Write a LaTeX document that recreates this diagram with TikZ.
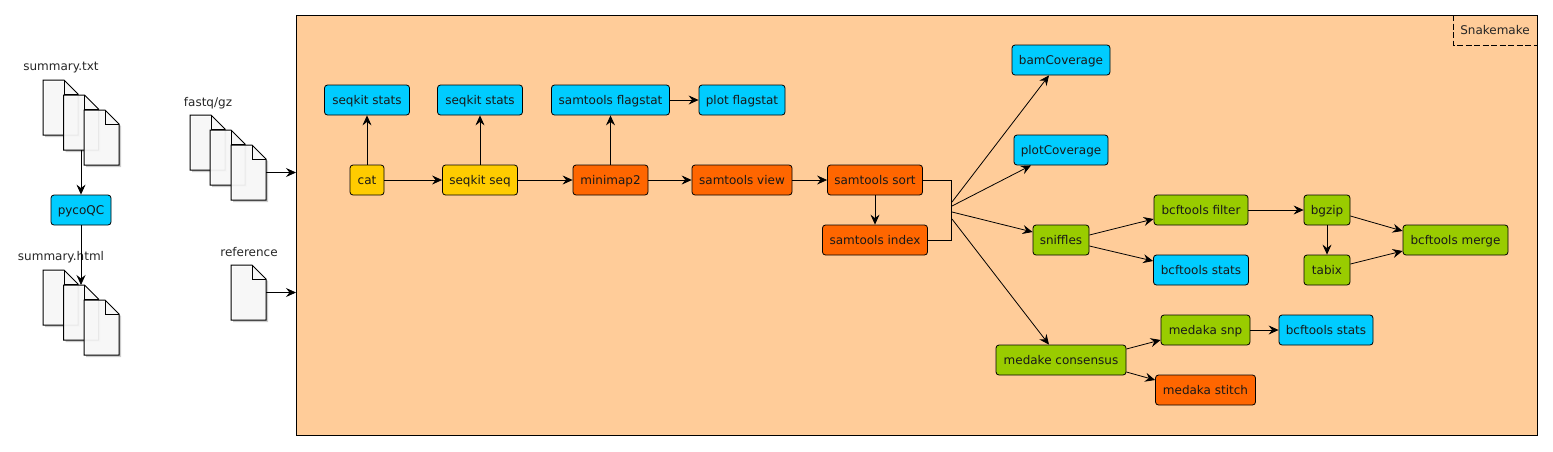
\documentclass[tikz,border=0pt]{standalone}
\usepackage{fontspec}
\setmainfont{DejaVu Sans}
\usetikzlibrary{positioning,arrows.meta,shadows}

\definecolor{flowbg}{HTML}{FFCC99}
\definecolor{qcblue}{HTML}{00CCFF}
\definecolor{mapred}{HTML}{FF6600}
\definecolor{readyel}{HTML}{FFCC00}
\definecolor{varnt}{HTML}{99CC00}
\definecolor{sheetgr}{HTML}{FCFCFC}

\tikzset{
  task/.style={draw,rounded corners=3pt,minimum height=30pt,inner sep=0pt,text height=11pt,text depth=2pt,font=\fontsize{12}{14}\selectfont,text=black!90},
  qc/.style={task,fill=qcblue},
  reads/.style={task,fill=readyel},
  align/.style={task,fill=mapred},
  call/.style={task,fill=varnt},
  filelabel/.style={inner sep=0pt,text height=11pt,text depth=2pt,font=\fontsize{12}{14}\selectfont,text=black!85},
  sheet/.style={minimum width=35pt,minimum height=55pt,inner sep=0pt,outer sep=0pt},
  sheetline/.style={draw,line width=1pt,line join=miter,fill=sheetgr,fill opacity=0.92,drop shadow={shadow xshift=2pt,shadow yshift=-2pt,opacity=0.2,fill=black}}
}

% page of a file with a folded corner
\newcommand{\filesheet}[2]{
  \node[sheet] (#1) at (#2) {};
  \path[sheetline] (#1.north west) -- ([xshift=-14pt]#1.north east) -- ([yshift=-14pt]#1.north east)
    -- (#1.south east) -- (#1.south west) -- cycle;
  \draw[line width=1pt] ([xshift=-14pt]#1.north east) -- ([xshift=-14pt,yshift=-14pt]#1.north east) -- ([yshift=-14pt]#1.north east);
}

\begin{document}
\begin{tikzpicture}[x=1pt,y=-1pt,line width=.8pt,>={Stealth[length=10pt,width=9pt,inset=3.5pt]},node distance=60pt]
    \useasboundingbox (0,0) rectangle (1553,451);

    % files on the left
    \node[filelabel] (sumtxt) at (61,66.2) {summary.txt};
    \filesheet{sumA}{60.5,107.5}
    \filesheet{sumB}{81,122.5}
    \filesheet{sumC}{101.5,137.5}
    \node[qc,minimum width=60pt] (pyco) at (81,210) {pycoQC};
    \node[filelabel] (sumhtml) at (61,256.2) {summary.html};
    \filesheet{htmlA}{60.5,297.5}
    \filesheet{htmlB}{81,312.5}
    \filesheet{htmlC}{101.5,327.5}
    \draw[->] (sumB.south) -- (pyco.north);
    \draw[->] (pyco.south) -- (htmlB.north);

    \node[filelabel] (fqlabel) at (208,101.5) {fastq/gz};
    \filesheet{fqA}{207.5,142.5}
    \filesheet{fqB}{227.5,157.5}
    \filesheet{fqC}{248.5,172.5}
    \node[filelabel] (reflabel) at (249,251.5) {reference};
    \filesheet{refdoc}{248.5,292.5}

    % workflow frame
    \node[draw,fill=flowbg,minimum width=1241pt,minimum height=420pt,inner sep=0pt,outer sep=0pt] (flow) at (916.5,225) {};
    \node[filelabel,minimum width=84pt,minimum height=30pt,outer sep=0pt] (tab) at (1495,30) {Snakemake};
    \draw[dash pattern=on 6pt off 2.5pt] (tab.north west) -- (tab.south west) -- (tab.south east);
    \draw[->] (fqC.east) -- (fqC.east -| flow.west);
    \draw[->] (refdoc.east) -- (refdoc.east -| flow.west);

    % main line
    \node[reads,minimum width=34pt] (cat) at (367,180) {cat};
    \node[reads,minimum width=75pt,right of=cat,node distance=113pt] (seq) {seqkit seq};
    \node[align,minimum width=75pt,right of=seq,node distance=130.5pt] (mini) {minimap2};
    \node[align,minimum width=100pt,right of=mini,node distance=131.5pt] (view) {samtools view};
    \node[align,minimum width=95pt,right of=view,node distance=133pt] (sort) {samtools sort};
    \node[align,minimum width=105pt,below of=sort] (index) {samtools index};

    % qc row
    \node[qc,minimum width=85pt,above of=cat,node distance=80pt] (statsA) {seqkit stats};
    \node[qc,minimum width=85pt,above of=seq,node distance=80pt] (statsB) {seqkit stats};
    \node[qc,minimum width=118pt,above of=mini,node distance=80pt] (flag) {samtools flagstat};
    \node[qc,minimum width=86pt,above of=view,node distance=80pt] (plotflag) {plot flagstat};

    % right part
    \node[qc,minimum width=98pt] (bamcov) at (1061,60) {bamCoverage};
    \node[qc,minimum width=94pt,below of=bamcov,node distance=90pt] (plotcov) {plotCoverage};
    \node[call,minimum width=56pt,below of=plotcov,node distance=90pt] (snif) {sniffles};
    \node[call,minimum width=94pt] (filter) at (1201,210) {bcftools filter};
    \node[qc,minimum width=95pt,below of=filter] (statsC) {bcftools stats};
    \node[call,minimum width=46pt,right of=filter,node distance=126pt] (bgzip) {bgzip};
    \node[call,minimum width=46pt,below of=bgzip] (tabix) {tabix};
    \node[call,minimum width=105pt] (merge) at (1455.5,240) {bcftools merge};
    \node[call,minimum width=130pt,below of=snif,node distance=120pt] (cons) {medake consensus};
    \node[call,minimum width=89pt] (snp) at (1205.5,330) {medaka snp};
    \node[qc,minimum width=94pt,right of=snp,node distance=120.5pt] (statsD) {bcftools stats};
    \node[align,minimum width=100pt,below of=snp] (stitch) {medaka stitch};

    % outlets of the bracket
    \coordinate (outA) at (952,202);
    \coordinate (outB) at (952,206);
    \coordinate (outC) at (952,212);
    \coordinate (outD) at (952,219);

    \draw[->] (cat) -- (seq);
    \draw[->] (seq) -- (mini);
    \draw[->] (mini) -- (view);
    \draw[->] (view) -- (sort);
    \draw[->] (sort) -- (index);
    \draw[->] (cat) -- (statsA);
    \draw[->] (seq) -- (statsB);
    \draw[->] (mini) -- (flag);
    \draw[->] (flag) -- (plotflag);
    \draw (sort.east) -| ([xshift=-1pt]outC |- index.east) -- (index.east);

    \draw[->] (outA) -- ([xshift=-12pt]bamcov.south);
    \draw[->] (outB) -- ([xshift=-30pt]plotcov.south);
    \draw[->] (outC) -- ([yshift=8pt]snif.west);
    \draw[->] (outD) -- ([xshift=-12pt]cons.north);

    \draw[->] ([yshift=5pt]snif.east) -- ([yshift=-9pt]filter.west);
    \draw[->] ([yshift=-6pt]snif.east) -- ([yshift=9pt]statsC.west);
    \draw[->] (filter) -- (bgzip);
    \draw[->] (bgzip) -- (tabix);
    \draw[->] ([yshift=-6pt]bgzip.east) -- ([yshift=9pt]merge.west);
    \draw[->] ([yshift=6pt]tabix.east) -- ([yshift=-11pt]merge.west);
    \draw[->] ([yshift=11pt]cons.east) -- ([yshift=-10pt]snp.west);
    \draw[->] ([yshift=-12pt]cons.east) -- ([yshift=10pt]stitch.west);
    \draw[->] (snp) -- (statsD);
  \end{tikzpicture}
\end{document}
